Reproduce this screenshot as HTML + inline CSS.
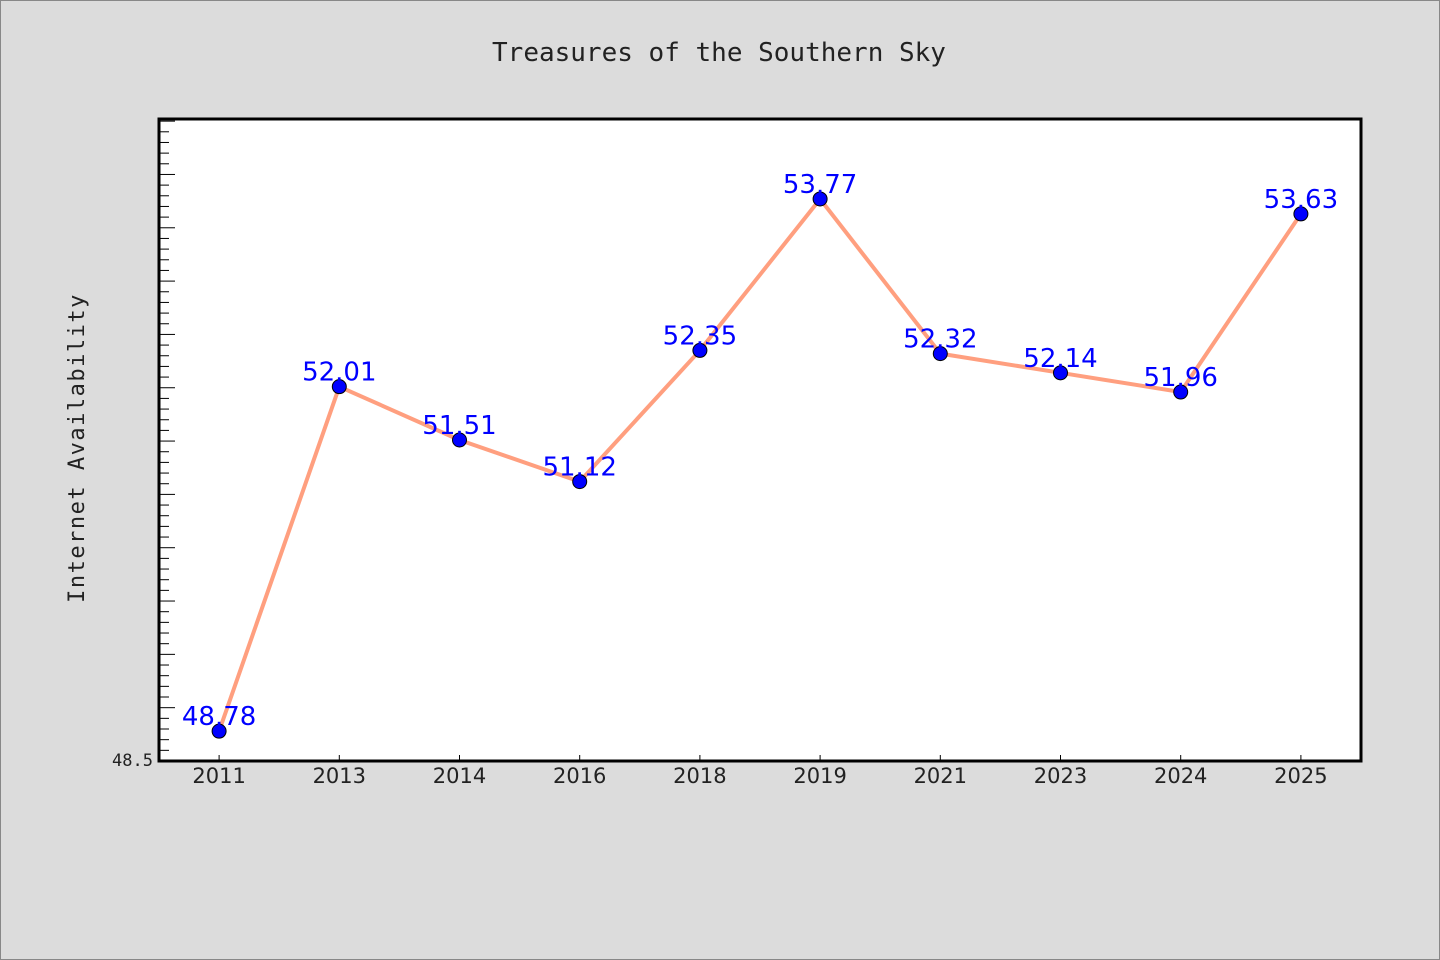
<!DOCTYPE html>
<html><head><meta charset="utf-8"><style>
body{margin:0;background:#dcdcdc;}
svg{display:block}
</style></head><body>
<svg id="chart" width="1440" height="960" xmlns="http://www.w3.org/2000/svg">
<rect x="0.5" y="0.5" width="1439" height="959" fill="#dcdcdc" stroke="#888"/>
<text x="719" y="61" text-anchor="middle" font-family="'DejaVu Sans Mono',monospace" font-size="26" fill="#222">Treasures of the Southern Sky</text>
<rect x="159" y="119" width="1202" height="642" fill="#fff"/>
<text transform="translate(84,448) rotate(-90)" text-anchor="middle" font-family="'DejaVu Sans Mono',monospace" font-size="22" fill="#222" letter-spacing="1.5">Internet Availability</text>
<g id="ticks"></g><g id="series"></g>
<rect x="159" y="119" width="1202" height="642" fill="none" stroke="#000" stroke-width="3"/>
</svg>
<script>
const categories=["2011","2013","2014","2016","2018","2019","2021","2023","2024","2025"];
const values=[48.78,52.01,51.51,51.12,52.35,53.77,52.32,52.14,51.96,53.63];
const yMin=48.5,yMax=54.52;
const L=159,R=1361,T=119,B=761;
const NS="http://www.w3.org/2000/svg";
const y=v=>B-(v-yMin)/(yMax-yMin)*(B-T);
const bw=(R-L)/categories.length;
const x=i=>L+bw*(i+0.5);
function mk(t,a,p){const e=document.createElementNS(NS,t);for(const k in a)e.setAttribute(k,a[k]);p.appendChild(e);return e;}
const tg=document.getElementById('ticks'),sg=document.getElementById('series');
for(let k=1;;k++){const v=yMin+k*0.1;if(v>yMax)break;const yy=y(v);const major=k%5===0;
const l=mk('line',{x1:L,x2:L+(major?16:10),y1:yy,y2:yy,stroke:'#000','stroke-width':1},tg);

}
const yl=mk('text',{x:153,y:766,'text-anchor':'end','font-family':"'DejaVu Sans Mono',monospace",'font-size':17,fill:'#222'},tg);
yl.textContent="48.5";


categories.forEach((c,i)=>{
const t=mk('line',{x1:x(i),x2:x(i),y1:B,y2:B-6,stroke:'#000'},tg);


const tx=mk('text',{x:x(i),y:783,'text-anchor':'middle','font-family':"'DejaVu Sans',sans-serif",'font-size':21,fill:'#222'},tg);
tx.textContent=c;

});
const pl=mk('polyline',{points:values.map((v,i)=>x(i)+','+y(v)).join(' '),fill:'none',stroke:'#ff9f7f','stroke-width':4,'stroke-linejoin':'round'},sg);


values.forEach((v,i)=>{
const c=mk('circle',{cx:x(i),cy:y(v),r:7,fill:'#0000ff',stroke:'#000','stroke-width':1},sg);


const t=mk('text',{x:x(i),y:y(v)-6,'text-anchor':'middle','font-family':"'DejaVu Sans',sans-serif",'font-size':26,fill:'#0000ff'},sg);
t.textContent=v.toFixed(2);

});
</script>
</body></html>
